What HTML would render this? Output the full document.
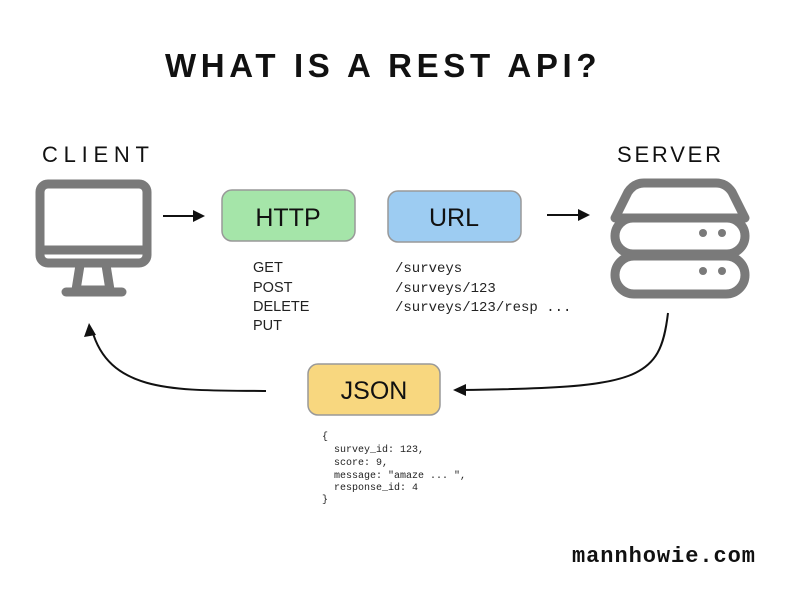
<!DOCTYPE html>
<html><head><meta charset="utf-8"><style>
body{margin:0;background:#fff;width:800px;height:600px;overflow:hidden}
</style></head><body>
<svg width="800" height="600" xmlns="http://www.w3.org/2000/svg">
<rect width="800" height="600" fill="#fff"/>
<text x="165" y="77" font-family="Liberation Sans, sans-serif" font-size="33" font-weight="bold" letter-spacing="3.5" fill="#111" textLength="435">WHAT IS A REST API?</text>
<text x="42" y="162" font-family="Liberation Sans, sans-serif" font-size="22" letter-spacing="1" fill="#111" textLength="108">CLIENT</text>
<text x="617" y="162" font-family="Liberation Sans, sans-serif" font-size="22" letter-spacing="1" fill="#111" textLength="105">SERVER</text>
<!-- monitor -->
<g fill="none" stroke="#7a7a7a" stroke-width="9" stroke-linejoin="round">
<rect x="40" y="184" width="107" height="79" rx="8"/>
<line x1="40" y1="250" x2="147" y2="250"/>
<path d="M80 265 L76 290 L110 290 L106 265" />
<line x1="66" y1="292" x2="122" y2="292" stroke-linecap="round"/>
</g>
<!-- server -->
<g fill="none" stroke="#7a7a7a" stroke-width="9" stroke-linejoin="round">
<path d="M644 183 L716 183 Q726 183 732 192 L745 218 L615 218 L628 192 Q634 183 644 183 Z"/>
<rect x="615" y="218" width="130" height="36" rx="18"/>
<rect x="615" y="256" width="130" height="38" rx="19"/>
</g>
<g fill="#7a7a7a"><circle cx="703" cy="233" r="4"/><circle cx="722" cy="233" r="4"/><circle cx="703" cy="271" r="4"/><circle cx="722" cy="271" r="4"/></g>
<!-- arrows -->
<g stroke="#111" stroke-width="2" fill="none">
<line x1="163" y1="216" x2="198" y2="216"/>
<line x1="547" y1="215" x2="583" y2="215"/>
<path d="M266 391 C180 390 110 395 92 330"/>
<path d="M668 313 C660 380 640 388 460 390"/>
</g>
<g fill="#111">
<polygon points="205,216 193,210 193,222"/>
<polygon points="590,215 578,209 578,221"/>
<polygon points="89,323 84,337 96,335"/>
<polygon points="453,390 466,384 466,396"/>
</g>
<!-- boxes -->
<rect x="222" y="190" width="133" height="51" rx="10" fill="#a5e5a9" stroke="#999" stroke-width="1.5"/>
<text x="288" y="226" text-anchor="middle" font-family="Liberation Sans, sans-serif" font-size="25" fill="#111">HTTP</text>
<rect x="388" y="191" width="133" height="51" rx="10" fill="#9dccf2" stroke="#999" stroke-width="1.5"/>
<text x="454" y="226" text-anchor="middle" font-family="Liberation Sans, sans-serif" font-size="25" fill="#111">URL</text>
<rect x="308" y="364" width="132" height="51" rx="10" fill="#f8d77f" stroke="#999" stroke-width="1.5"/>
<text x="374" y="399" text-anchor="middle" font-family="Liberation Sans, sans-serif" font-size="25" fill="#111">JSON</text>
<g font-family="Liberation Sans, sans-serif" font-size="14.5" fill="#222">
<text x="253" y="272">GET</text><text x="253" y="292">POST</text><text x="253" y="311">DELETE</text><text x="253" y="330">PUT</text>
</g>
<g font-family="Liberation Mono, monospace" font-size="14" fill="#222">
<text x="395" y="272">/surveys</text><text x="395" y="292">/surveys/123</text><text x="395" y="311">/surveys/123/resp ...</text>
</g>
<g font-family="Liberation Mono, monospace" font-size="10" fill="#222">
<text x="322" y="439">{</text>
<text x="334" y="452">survey_id: 123,</text>
<text x="334" y="465">score: 9,</text>
<text x="334" y="478">message: "amaze ... ",</text>
<text x="334" y="490">response_id: 4</text>
<text x="322" y="502">}</text>
</g>
<text x="572" y="562" font-family="Liberation Mono, monospace" font-size="22" font-weight="bold" fill="#111" textLength="183">mannhowie.com</text>
</svg>
</body></html>
